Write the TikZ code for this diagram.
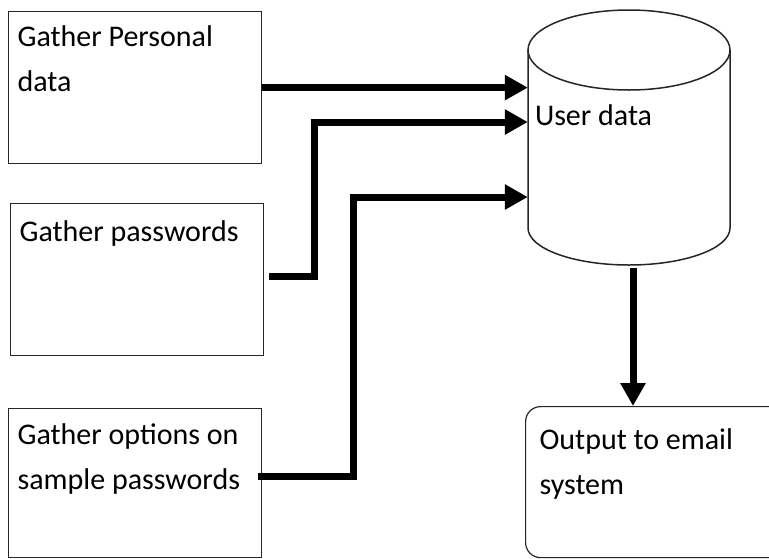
\documentclass[tikz,border=0pt]{standalone}
\usepackage{fontspec}
\setmainfont{Carlito}
\usetikzlibrary{arrows.meta}

\newcommand{\boxlines}[2]{\parbox[c][#1][t]{235pt}{#2}}

\begin{document}
\begin{tikzpicture}[
      x=1pt, y=-1pt,
      procbox/.style={rectangle, draw=black!85, line width=1.2pt, anchor=north west,
                      inner xsep=9pt, minimum width=251pt, align=left,
                      font=\fontsize{30}{45}\selectfont},
      outbox/.style={procbox, rounded corners=15pt, inner xsep=14pt, minimum width=242pt},
      store/.style={rectangle, minimum width=202pt, minimum height=255pt, inner sep=0pt},
      outline/.style={draw=black!85, line width=1.5pt},
      flow/.style={-{Triangle[length=23pt, width=24pt]}, line width=7pt}
    ]
    \useasboundingbox (0,0) rectangle (769,558);
    \node[procbox, minimum height=152pt, inner ysep=14pt] (personal)  at (8,11)
         {\boxlines{124pt}{Gather Personal\\data}};
    \node[procbox, minimum width=253pt, minimum height=152pt, inner ysep=17pt] (passwords) at (10,203)
         {\boxlines{118pt}{Gather passwords}};
    \node[procbox, minimum height=149pt, inner ysep=15pt] (options)   at (8,408)
         {\boxlines{119pt}{Gather options on\\sample passwords}};
    \node[store, label={[anchor=west, inner sep=0pt, xshift=7pt, yshift=22pt,
                         font=\fontsize{30}{45}\selectfont]west:User data}]
         (userdata) at (629,137.5) {};
    \node[outbox, minimum height=151pt, inner ysep=22pt] (output) at (525,406)
         {\boxlines{107pt}{Output to email\\system}};
    % drum outline of the store
    \begin{scope}[shift={(userdata.center)}]
      \draw[outline] (-101,-87.5) -- (-101,90.5)
           .. controls (-101,110.9) and (-55.8,127.5) .. (0,127.5)
           .. controls (55.8,127.5) and (101,110.9) .. (101,90.5)
           -- (101,-87.5);
      \draw[outline] (-101,-87.5)
           .. controls (-101,-109.6) and (-55.8,-127.5) .. (0,-127.5)
           .. controls (55.8,-127.5) and (101,-109.6) .. (101,-87.5)
           .. controls (101,-65.4) and (55.8,-47.5) .. (0,-47.5)
           .. controls (-55.8,-47.5) and (-101,-65.4) .. (-101,-87.5) -- cycle;
    \end{scope}
    \draw[flow] (personal.east) -- (personal.east -| userdata.west);
    \draw[flow] ([xshift=5pt, yshift=3pt]passwords.east) -- ++(45,0)
         |- ([yshift=15.5pt]userdata.west);
    \draw[flow] ([xshift=-4pt, yshift=6.5pt]options.east) -- ++(95,0)
         |- ([yshift=-59.5pt]userdata.west);
    \draw[flow] ([xshift=4pt, yshift=-3pt]userdata.south) -- ([xshift=4pt]userdata.south |- output.north);
  \end{tikzpicture}
\end{document}
